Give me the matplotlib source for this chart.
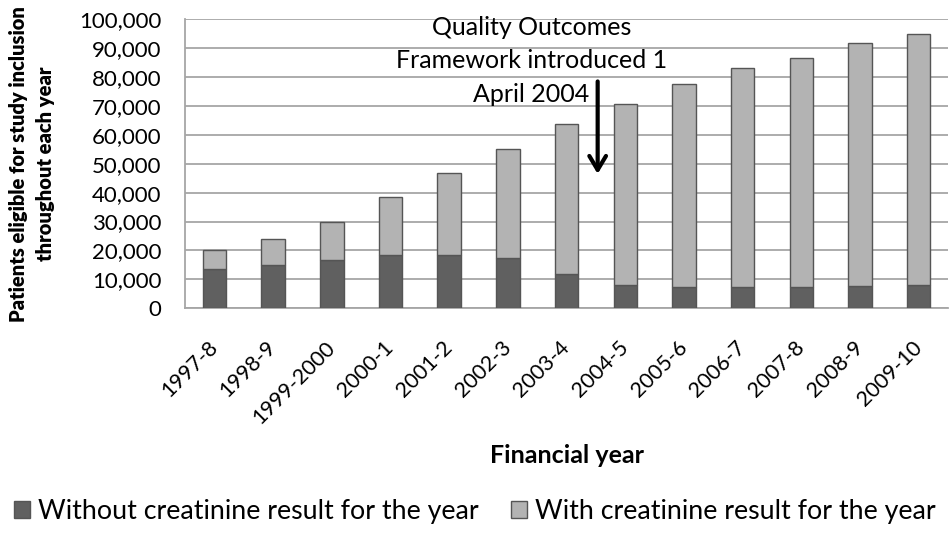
import matplotlib.pyplot as plt
from matplotlib.ticker import FuncFormatter, MultipleLocator
import numpy as np

plt.rcParams['font.family'] = ['Lato', 'DejaVu Sans']

# Patients per financial year
years = ['1997-8', '1998-9', '1999-2000', '2000-1', '2001-2', '2002-3', '2003-4',
         '2004-5', '2005-6', '2006-7', '2007-8', '2008-9', '2009-10']
totals = [20200, 23900, 30000, 38600, 46800, 55100, 63700,
          70800, 77600, 83300, 86700, 91700, 95000]
without_creat = [13700, 14900, 16800, 18500, 18400, 17500, 11800,
                 8000, 7500, 7300, 7300, 7700, 8200]
with_creat = [t - w for t, w in zip(totals, without_creat)]

x = np.arange(len(years))

fig = plt.figure(figsize=(9.49, 5.37), dpi=100)
ax = fig.add_axes([0.195, 0.426, 0.804, 0.538])

ax.bar(x, without_creat, 0.4, color='#606060', edgecolor='#555555', linewidth=1,
       label='Without creatinine result for the year', zorder=3)
ax.bar(x, with_creat, 0.4, bottom=without_creat, color='#b3b3b3', edgecolor='#555555',
       linewidth=1, label='With creatinine result for the year', zorder=3)

ax.set_xlim(-0.5, len(years) - 0.5)
ax.set_ylim(0, 100000)
ax.yaxis.set_major_locator(MultipleLocator(10000))
ax.yaxis.set_major_formatter(FuncFormatter(lambda v, p: f'{int(v):,}'))
ax.grid(axis='y', color='#a6a6a6', linewidth=1.3, zorder=0)
ax.tick_params(axis='y', length=0, labelsize=16, pad=17)
ax.tick_params(axis='x', length=0, labelsize=15.5, pad=26)
ax.set_xticks(x)
ax.set_xticklabels(years, rotation=45, ha='right', va='center', rotation_mode='anchor')

for side in ['top', 'right']:
    ax.spines[side].set_visible(False)
for side in ['left', 'bottom']:
    ax.spines[side].set_color('#a6a6a6')
    ax.spines[side].set_linewidth(1.3)

ax.set_ylabel('Patients eligible for study inclusion\nthroughout each year',
              fontsize=14.5, fontweight='heavy', labelpad=17, linespacing=1.5)
ax.set_xlabel('Financial year', fontsize=18, fontweight='bold', labelpad=12)

# QOF annotation
ax.annotate('', xy=(6.53, 46500), xytext=(6.53, 78500),
            arrowprops=dict(arrowstyle='->,head_width=0.6,head_length=1.0',
                            color='black', lw=3, shrinkA=0, shrinkB=0))
ax.text(5.4, 85600, 'Quality Outcomes\nFramework introduced 1\nApril 2004',
        ha='center', va='center', fontsize=18, linespacing=1.55, zorder=4)

fig.legend(loc='center', bbox_to_anchor=(0.5, 0.047), ncol=2, frameon=False,
           fontsize=19.3, handlelength=0.6, handleheight=0.6, handletextpad=0.3,
           columnspacing=1.2)

fig.savefig('out.png', dpi=100)
